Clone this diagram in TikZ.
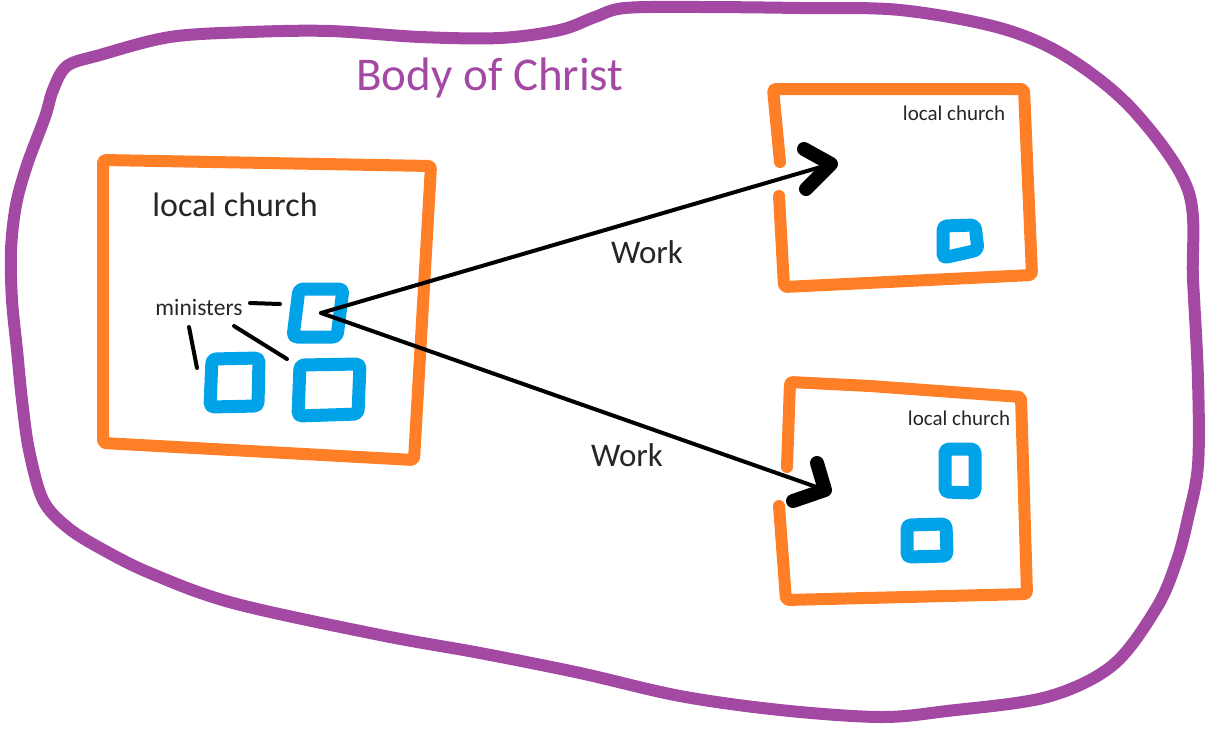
\documentclass[tikz,border=0pt]{standalone}
\usepackage{fontspec}
\setmainfont{Carlito}
\usepackage{xcolor}
\usepackage{tikz}
\usetikzlibrary{calc}
\definecolor{paintpurple}{HTML}{A349A4}
\definecolor{paintorange}{HTML}{FF7F27}
\definecolor{paintblue}{HTML}{00A2E8}
\definecolor{inktext}{HTML}{262626}
\tikzset{
	body/.style={draw=paintpurple, line width=12pt},
	church/.style={draw=paintorange, line width=12pt, rounded corners=3pt},
	minister/.style={draw=paintblue, line width=13pt, rounded corners=4pt},
	pointer/.style={black, line width=4pt},
	work/.style={black, line width=4pt},
	chevron/.style={black, line width=14pt},
	label/.style={text=inktext, inner sep=0pt}
}

\begin{document}
\begin{tikzpicture}[x=1pt, y=-1pt, line cap=round, line join=round]
	\useasboundingbox (0,0) rectangle (1209,728);

	% body of christ
	\draw[body] plot[smooth cycle, tension=0.55] coordinates {
		(53,90) (67,66) (100,55) (170,37) (250,32) (330,31) (420,37) (500,38)
		(560,30) (595,17) (625,8) (700,7) (800,8) (900,10) (1000,28)
		(1067,57) (1133,110) (1188,190) (1193,280) (1198,380) (1198,465)
		(1188,518) (1177,560) (1157,607) (1113,665) (1047,697) (947,711) (880,717)
		(780,710) (680,696) (580,673) (480,653) (380,635) (233,603)
		(150,573) (100,548) (67,527) (43,500) (29,450) (22,400) (17,350)
		(12,300) (11,250) (16,205) (27,165) (45,117)};
	\node[label, text=paintpurple, font=\fontsize{47}{52}\selectfont] (body) at (490,78) {Body of Christ};

	% local churches
	\draw[church] (103,160) -- (431,166) -- (414,460) -- (103,443) -- cycle;
	\node[label, font=\fontsize{34}{40}\selectfont] (home) at (235,205) {local church};

	\draw[church] (780,162) -- (773,89) -- (1024,89) -- (1032,275) -- (784,287) -- (779,196);
	\node[label, font=\fontsize{21}{25}\selectfont] (churchA) at (954,113) {local church};

	\draw[church] (787,467) -- (790,382) -- (870,386) -- (1021,397) -- (1027,594) -- (786,600) -- (779,506);
	\node[label, font=\fontsize{21}{25}\selectfont] (churchB) at (959,418) {local church};

	% ministers
	\draw[minister] (299,289) -- (343,289) -- (337,337) -- (293,337) -- cycle;
	\draw[minister] (212,359) -- (259,358) -- (258,406) -- (210,407) -- cycle;
	\draw[minister] (300,365) -- (360,364) -- (358,414) -- (298,416) -- cycle;
	\draw[minister] (943,226) -- (975,225) -- (978,250) -- (943,258) -- cycle;
	\draw[minister] (945,449) -- (975,449) -- (975,493) -- (945,492) -- cycle;
	\draw[minister] (907,525) -- (946,524) -- (947,556) -- (907,557) -- cycle;

	\node[label, font=\fontsize{23.5}{28}\selectfont] (ministers) at (199,307) {ministers};
	\draw[pointer] (250,303) -- (280,304);
	\draw[pointer] (189,327) -- (197,368);
	\draw[pointer] (234,326) -- (287,359);

	% work
	\coordinate (sender) at (321,313);
	\coordinate (tipA) at (831,164);
	\coordinate (tipB) at (825,490);
	\draw[work] (sender) -- (tipA);
	\draw[work] (sender) -- (tipB);
	\draw[chevron] (804,149) -- (tipA) -- (806,189);
	\draw[chevron] (817,463) -- (tipB) -- (793,501);
	\node[label, font=\fontsize{33}{38}\selectfont] (workA) at (647,252) {Work};
	\node[label, font=\fontsize{33}{38}\selectfont] (workB) at (627,455) {Work};
\end{tikzpicture}
\end{document}
